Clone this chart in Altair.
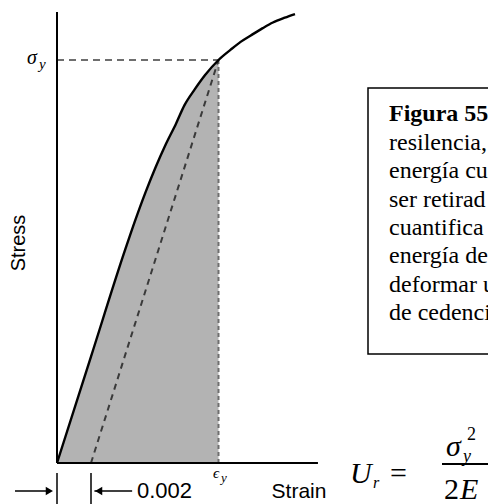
import altair as alt
import pandas as pd

# ---- data ----
strain = [0, 0.0020, 0.0040, 0.0046, 0.0052, 0.0058, 0.0064, 0.0070, 0.0075, 0.0081, 0.0087,
          0.0095, 0.0102, 0.0108, 0.0114, 0.0121, 0.0127, 0.0134, 0.0140]
stress = [0, 26.4, 52.8, 60.2, 67.1, 73.4, 79.1, 84.2, 88.8, 92.7, 96.2,
          100.0, 102.5, 104.5, 106.1, 107.9, 109.3, 110.5, 111.4]
yield_strain = 0.0095
yield_stress = 100.0
offset_strain = 0.002
axis_end_strain = 0.01535
axis_top_stress = 111.9

box_title = "Figura 55."
box_lines = ["resilencia, la", "energía cuando", "ser retirad", "cuantifica a",
             "energía de", "deformar un", "de cedencia."]

curve = pd.DataFrame({"strain": strain, "stress": stress})
shade = curve[curve["strain"] <= yield_strain]

xs = alt.Scale(domain=[-0.003353, 0.025353], nice=False, zero=False)
ys = alt.Scale(domain=[-10.174, 114.888], nice=False, zero=False)

def X(f="strain"):
    return alt.X(f"{f}:Q", scale=xs, axis=None)

def Y(f="stress"):
    return alt.Y(f"{f}:Q", scale=ys, axis=None)

one = pd.DataFrame({"a": [0]})

area = alt.Chart(shade).mark_area(color="#b3b3b3", interpolate="monotone").encode(x=X(), y=Y())

sig_rule = alt.Chart(pd.DataFrame({"x0": [0.0], "x1": [yield_strain], "y": [yield_stress]})).mark_rule(
    color="#6e6e6e", strokeWidth=2, strokeDash=[7, 5]).encode(x=X("x0"), x2="x1:Q", y=Y("y"))

eps_rule = alt.Chart(pd.DataFrame({"x": [yield_strain], "y0": [0.0], "y1": [yield_stress]})).mark_rule(
    color="#6e6e6e", strokeWidth=2, strokeDash=[4, 3]).encode(x=X("x"), y=Y("y0"), y2="y1:Q")

off_line = alt.Chart(pd.DataFrame({"strain": [offset_strain, yield_strain], "stress": [0.0, yield_stress]})).mark_line(
    color="#3a3a3a", strokeWidth=2, strokeDash=[6, 5]).encode(x=X(), y=Y())

line = alt.Chart(curve).mark_line(color="black", strokeWidth=2.4, interpolate="monotone").encode(x=X(), y=Y())

yaxis = alt.Chart(pd.DataFrame({"x": [0.0], "y0": [0.0], "y1": [axis_top_stress]})).mark_rule(
    color="black", strokeWidth=2).encode(x=X("x"), y=Y("y0"), y2="y1:Q")
xaxis = alt.Chart(pd.DataFrame({"x0": [0.0], "x1": [axis_end_strain], "y": [0.0]})).mark_rule(
    color="black", strokeWidth=2).encode(x=X("x0"), x2="x1:Q", y=Y("y"))

ticks = alt.Chart(pd.DataFrame({"x": [0.0, offset_strain]})).mark_rule(
    color="black", strokeWidth=1.5).encode(x=X("x"), y=alt.value(473), y2=alt.value(504))

arrows = alt.Chart(pd.DataFrame({"x0": [-0.00247, offset_strain + 0.0002],
                                 "x1": [-0.0004, offset_strain + 0.00242]})).mark_rule(
    color="black", strokeWidth=1.5).encode(x=X("x0"), x2="x1:Q", y=alt.value(491))
head_r = alt.Chart(pd.DataFrame({"x": [-0.00045]})).mark_point(
    shape="triangle-right", filled=True, color="black", size=70, opacity=1).encode(x=X("x"), y=alt.value(491))
head_l = alt.Chart(pd.DataFrame({"x": [offset_strain + 0.00045]})).mark_point(
    shape="triangle-left", filled=True, color="black", size=70, opacity=1).encode(x=X("x"), y=alt.value(491))

def txt(t, x, y, size, font="Liberation Sans", style="normal", weight="normal", align="left",
        baseline="alphabetic", angle=0, color="black", **kw):
    return alt.Chart(one).mark_text(font=font, fontSize=size, fontStyle=style, fontWeight=weight,
                                    align=align, baseline=baseline, angle=angle, color=color, **kw).encode(
        x=alt.value(x), y=alt.value(y), text=alt.value(t))

labels = [
    txt("σ", 27, 64, 20, font="Liberation Serif", style="italic"),
    txt("y", 39, 69, 15, font="Liberation Serif", style="italic"),
    txt("Stress", 25, 243, 20, align="center", angle=270),
    txt("Strain", 299, 498, 21, align="center"),
    txt("0.002", 137, 498, 22),
    txt("ϵ", 213, 478, 15, font="Liberation Serif", style="italic"),
    txt("y", 221, 482, 13, font="Liberation Serif", style="italic"),
    # formula
    txt("U", 350, 483, 30, font="Liberation Serif", style="italic"),
    txt("r", 373, 488, 16, font="Liberation Serif", style="italic"),
    txt("=", 390, 483, 30, font="Liberation Serif"),
    txt("σ", 446, 456, 30, font="Liberation Serif", style="italic"),
    txt("y", 463, 462, 18, font="Liberation Serif", style="italic"),
    txt("2", 467, 440, 18, font="Liberation Serif"),
    txt("2", 444, 499, 30, font="Liberation Serif"),
    txt("E", 460, 499, 30, font="Liberation Serif", style="italic"),
]

frac_bar = alt.Chart(one).mark_rule(color="black", strokeWidth=2).encode(
    x=alt.value(442), x2=alt.value(492), y=alt.value(464))

box = alt.Chart(one).mark_rect(fill="white", stroke="black", strokeWidth=1.5).encode(
    x=alt.value(368), x2=alt.value(540), y=alt.value(88), y2=alt.value(354))

title = txt(box_title, 389, 121, 24, font="Liberation Serif", weight="bold")
body = txt("\n".join(box_lines), 389, 150, 24, font="Liberation Serif", lineBreak="\n", lineHeight=28.3)

chart = alt.layer(area, sig_rule, eps_rule, off_line, line, yaxis, xaxis, ticks, arrows, head_r, head_l,
                  frac_bar, box, title, body, *labels).properties(
    width=488, height=504, padding=0, autosize=alt.AutoSizeParams(type="none"),
    background="white").configure_view(stroke=None)

chart.save("out.html", embed_options={"renderer": "svg", "actions": False})
